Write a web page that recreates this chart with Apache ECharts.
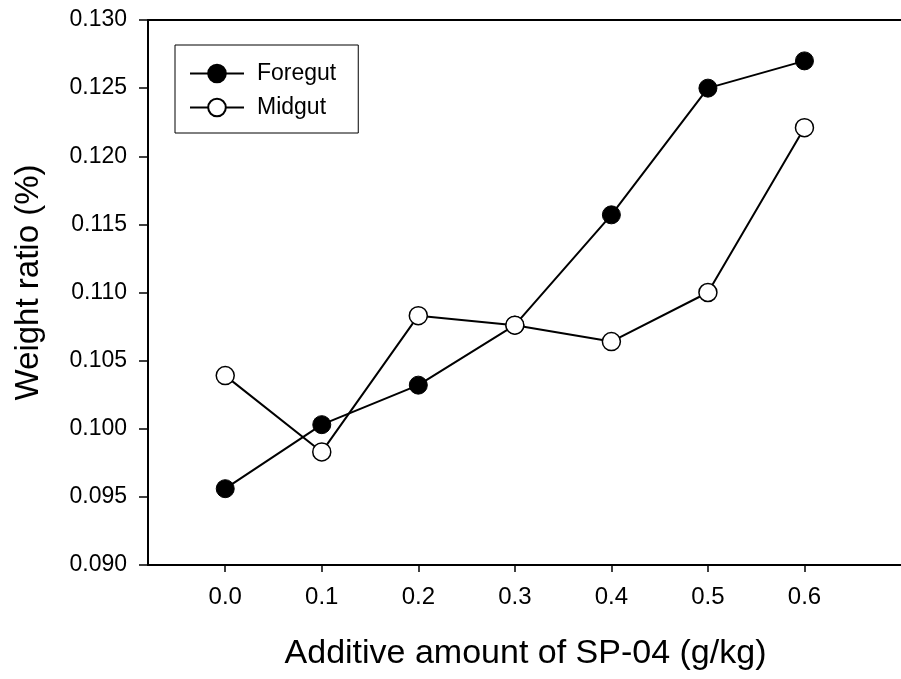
<!DOCTYPE html>
<html>
<head>
<meta charset="utf-8">
<script src="https://cdn.jsdelivr.net/npm/echarts@6/dist/echarts.min.js"></script>
<style>
  html, body { margin: 0; padding: 0; background: #fff; }
  #chart { width: 901px; height: 679px; }
</style>
</head>
<body>
<div id="chart"></div>
<script>
// SP-04 additive amount (g/kg)
const doses = [0.0, 0.1, 0.2, 0.3, 0.4, 0.5, 0.6];
// Organ weight ratio (%)
const foregut = [0.0956, 0.1003, 0.1032, 0.1076, 0.1157, 0.1250, 0.1270];
const midgut = [0.1039, 0.0983, 0.1083, 0.1076, 0.1064, 0.1100, 0.1221];
const xTicks = [0.0, 0.1, 0.2, 0.3, 0.4, 0.5, 0.6];

const FONT = 'Liberation Sans, Arial, sans-serif';

const chart = echarts.init(document.getElementById('chart'), null, { renderer: 'canvas' });

const pairs = (xs, ys) => xs.map((x, i) => [x, ys[i]]);

chart.setOption({
  animation: false,
  backgroundColor: '#ffffff',
  textStyle: { fontFamily: FONT, color: '#000' },
  grid: { left: 148, top: 20, width: 767, bottom: 114, containLabel: false },
  legend: {
    left: 175,
    top: 45,
    orient: 'vertical',
    padding: [17, 22, 14, 14],
    itemGap: 11,
    itemWidth: 54,
    itemHeight: 22,
    borderColor: '#000',
    borderWidth: 1,
    textStyle: { fontFamily: FONT, fontSize: 23, color: '#000', padding: [0, 0, 0, 8] },
    data: ['Foregut', 'Midgut']
  },
  xAxis: [
    {
      type: 'value',
      min: -0.08,
      max: 0.7,
      position: 'bottom',
      name: 'Additive amount of SP-04 (g/kg)',
      nameLocation: 'middle',
      nameGap: 72,
      nameTextStyle: { fontFamily: FONT, fontSize: 34, color: '#000', padding: [0, 0, 0, 2] },
      splitLine: { show: false },
      axisLine: { show: true, onZero: false, lineStyle: { color: '#000', width: 2 } },
      axisTick: {
        show: true, inside: false, length: 7,
        customValues: xTicks,
        lineStyle: { color: '#000', width: 1.5 }
      },
      axisLabel: {
        show: true, margin: 20,
        customValues: xTicks,
        fontFamily: FONT, fontSize: 24, color: '#000',
        formatter: v => v.toFixed(1)
      }
    },
    {
      type: 'value',
      min: -0.08,
      max: 0.7,
      position: 'top',
      splitLine: { show: false },
      axisLine: { show: true, onZero: false, lineStyle: { color: '#000', width: 2 } },
      axisTick: { show: false },
      axisLabel: { show: false }
    }
  ],
  yAxis: {
    type: 'value',
    min: 0.09,
    max: 0.13,
    interval: 0.005,
    name: 'Weight ratio (%)',
    nameLocation: 'middle',
    nameRotate: 90,
    nameGap: 103,
    nameTextStyle: { fontFamily: FONT, fontSize: 33, color: '#000', padding: [0, 0, 0, 20] },
    splitLine: { show: false },
    axisLine: { show: true, onZero: false, lineStyle: { color: '#000', width: 2 } },
    axisTick: { show: true, inside: false, length: 9, lineStyle: { color: '#000', width: 1.5 } },
    axisLabel: {
      margin: 21,
      fontFamily: FONT, fontSize: 23, color: '#000',
      formatter: v => v.toFixed(3)
    }
  },
  series: [
    {
      name: 'Foregut',
      type: 'line',
      data: pairs(doses, foregut),
      symbol: 'circle',
      symbolSize: 18,
      showAllSymbol: true,
      z: 2,
      lineStyle: { color: '#000', width: 2 },
      itemStyle: { color: '#000', borderColor: '#000', borderWidth: 1 }
    },
    {
      name: 'Midgut',
      type: 'line',
      data: pairs(doses, midgut),
      symbol: 'circle',
      symbolSize: 18,
      showAllSymbol: true,
      z: 3,
      lineStyle: { color: '#000', width: 2 },
      itemStyle: { color: '#fff', borderColor: '#000', borderWidth: 1.5 }
    }
  ]
});
</script>
</body>
</html>
